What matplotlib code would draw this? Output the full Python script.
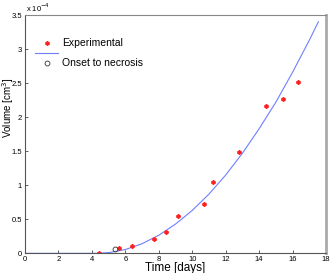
import matplotlib
matplotlib.use("Agg")
import matplotlib.pyplot as plt

# volumes in units of 1e-4 cm^3
exp_t = [4.45, 5.62, 6.42, 7.69, 8.43, 9.17, 10.70, 11.24, 12.78, 14.43, 15.43, 16.34]
exp_v = [0.01, 0.073, 0.112, 0.21, 0.32, 0.547, 0.722, 1.054, 1.493, 2.162, 2.26, 2.518]

onset_t = [5.40]
onset_v = [0.059]

model_t = [0, 4.3, 5, 6, 7, 8, 9, 10, 11, 12, 13, 14, 15, 16, 17, 17.54]
model_v = [0, 0, 0.01, 0.056, 0.141, 0.266, 0.43, 0.63, 0.87, 1.15, 1.47, 1.83, 2.22, 2.66, 3.13, 3.40]

xticks = [0, 2, 4, 6, 8, 10, 12, 14, 16, 18]
yticks = [0, 0.5, 1, 1.5, 2, 2.5, 3, 3.5]
yticklabels = ["0", "0.5", "1", "1.5", "2", "2.5", "3", "3.5"]

plt.rcParams["font.family"] = ["Liberation Sans", "DejaVu Sans"]

fig = plt.figure(figsize=(3.31, 2.73), dpi=100)
ax = fig.add_axes([0.0755, 0.072, 0.9095, 0.873])

line, = ax.plot(model_t, model_v, color="#6f7fff", lw=0.8)
exp, = ax.plot(exp_t, exp_v, ls="none", marker=(6, 2, 0), ms=3, mew=1.1,
               color="#ff2020")
onset, = ax.plot(onset_t, onset_v, ls="none", marker="o", ms=3.5, mew=0.6,
                 mfc="none", mec="#333333")

ax.set_xlim(0, 18)
ax.set_ylim(0, 3.5)
ax.set_xticks(xticks)
ax.set_xticklabels([str(t) for t in xticks])
ax.set_yticks(yticks)
ax.set_yticklabels(yticklabels)
ax.tick_params(direction="in", length=2, width=0.6, labelsize=5.5, pad=2,
               color="#444444")

for s in ["left", "bottom"]:
    ax.spines[s].set_color("#555555")
    ax.spines[s].set_linewidth(0.8)
ax.spines["top"].set_color("#888888")
ax.spines["top"].set_linewidth(0.8)
ax.spines["right"].set_color("#aaaaaa")
ax.spines["right"].set_linewidth(2)

ax.set_xlabel("Time [days]", fontsize=8.5)
ax.xaxis.set_label_coords(0.5, -0.035)
# MATLAB-style label sits above the axes centre
fig.text(0.5 / 331, 1 - 108 / 273, "Volume [cm$^3$]", fontsize=7,
         rotation=90, ha="left", va="center")
ax.text(0.005, 1.005, "x 10$^{-4}$", transform=ax.transAxes, fontsize=5.5,
        va="bottom", ha="left")

ax.legend([exp, line, onset], ["Experimental", "", "Onset to necrosis"],
          loc="upper left", bbox_to_anchor=(0.02, 0.92), frameon=False,
          fontsize=7.5, handlelength=2.2, handletextpad=0.4, labelspacing=0.0,
          borderaxespad=0)

fig.savefig("out.png", dpi=100)
